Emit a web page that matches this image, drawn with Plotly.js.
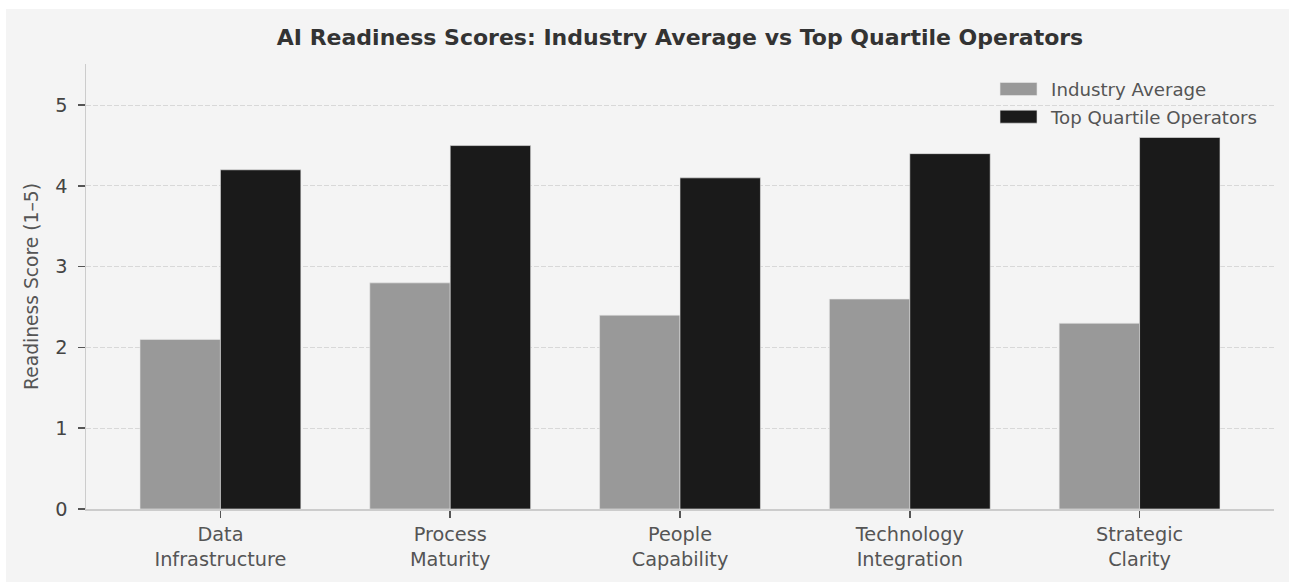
<!DOCTYPE html>
<html>
<head>
<meta charset="utf-8">
<script src="https://cdn.plot.ly/plotly-3.0.1.min.js"></script>
<style>
html,body{margin:0;padding:0;background:#ffffff;}
#chart{position:absolute;left:6px;top:9px;width:1283px;height:573px;}
</style>
</head>
<body>
<div id="chart"></div>
<script>
const categories = ["Data<br>Infrastructure", "Process<br>Maturity", "People<br>Capability", "Technology<br>Integration", "Strategic<br>Clarity"];
const industryAverage = [2.1, 2.8, 2.4, 2.6, 2.3];
const topQuartile = [4.2, 4.5, 4.1, 4.4, 4.6];
const yTicks = [0, 1, 2, 3, 4, 5];

const font = "DejaVu Sans, sans-serif";

const traces = [
  {
    type: "bar", name: "Industry Average", x: categories, y: industryAverage,
    legendgroup: "a",
    marker: {color: "#999999", line: {color: "#e8e8e8", width: 0.6}},
    hoverinfo: "skip"
  },
  {
    type: "bar", name: "Top Quartile Operators", x: categories, y: topQuartile,
    legendgroup: "b",
    marker: {color: "#1a1a1a", line: {color: "#e8e8e8", width: 0.6}},
    hoverinfo: "skip"
  }
];

const layout = {
  width: 1283, height: 573,
  paper_bgcolor: "#f4f4f4", plot_bgcolor: "#f4f4f4",
  margin: {l: 80, r: 15, t: 55, b: 73},
  barmode: "group", bargap: 0.3, bargroupgap: 0,
  title: {
    text: "<b>AI Readiness Scores: Industry Average vs Top Quartile Operators</b>",
    font: {family: font, size: 22, color: "#333333"},
    x: 0.5, xref: "paper", xanchor: "center",
    y: 0.951, yref: "container", yanchor: "middle"
  },
  font: {family: font, color: "#555555"},
  showlegend: true,
  legend: {
    x: 0.7618, xanchor: "left", y: 0.985, yanchor: "top", xref: "paper", yref: "paper",
    bgcolor: "rgba(0,0,0,0)", borderwidth: 0,
    font: {family: font, size: 18.2, color: "#555555"},
    itemwidth: 50,
    tracegroupgap: 1
  },
  xaxis: {
    type: "category",
    range: [-0.585, 4.585],
    showline: true, linecolor: "#cccccc", linewidth: 1.5,
    ticks: "outside", ticklen: 7, tickwidth: 1.5, tickcolor: "#555555",
    tickfont: {family: font, size: 19.3, color: "#555555"},
    showgrid: false, zeroline: false
  },
  yaxis: {
    range: [0, 5.51],
    tickvals: yTicks,
    showline: true, linecolor: "#cccccc", linewidth: 1.5,
    ticks: "outside", ticklen: 7, tickwidth: 1.5, tickcolor: "#555555",
    ticklabelstandoff: 6,
    tickfont: {family: font, size: 19.3, color: "#444444"},
    showgrid: true, gridcolor: "#d8d8d8", gridwidth: 1, griddash: "4.7px,2.3px",
    zeroline: false,
    title: {text: "Readiness Score (1–5)", font: {family: font, size: 18.7, color: "#555555"}, standoff: 12}
  }
};

Plotly.newPlot("chart", traces, layout, {displayModeBar: false, staticPlot: true}).then(function (gd) {
  gd.querySelectorAll(".legend .legendpoints path").forEach(function (p) {
    p.setAttribute("d", "M16,6.5H-21V-6.5H16Z");
  });
});
</script>
</body>
</html>
